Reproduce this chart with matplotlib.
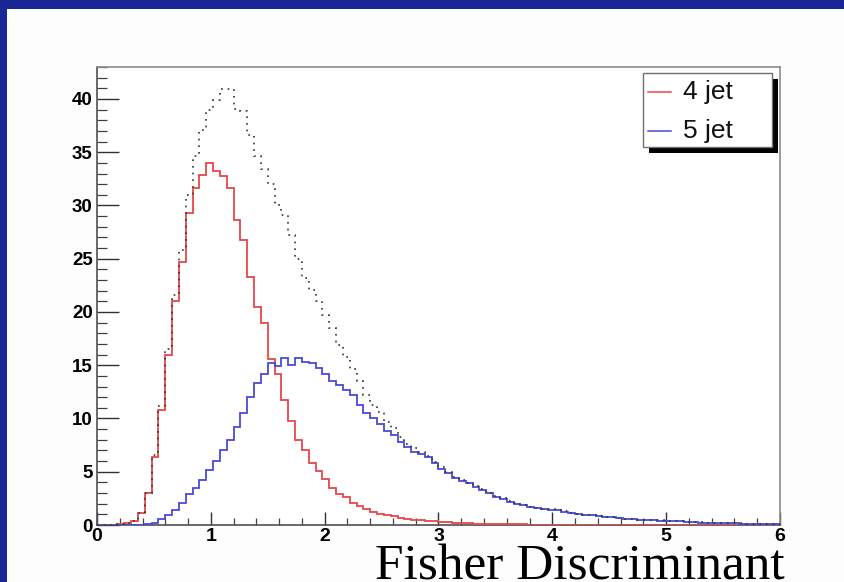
import numpy as np
import matplotlib
matplotlib.use("Agg")
import matplotlib.pyplot as plt
from matplotlib.patches import Rectangle
from matplotlib.lines import Line2D
from matplotlib.ticker import MultipleLocator

# Fisher discriminant distributions, 100 bins from 0 to 6
x_range = (0.0, 6.0)
n_bins = 100

jet4 = [0.02, 0.02, 0.04, 0.08, 0.15, 0.35, 1.1, 3.0, 6.4, 10.8,
        16.0, 21.0, 24.7, 29.3, 31.6, 32.9, 34.0, 33.2, 32.8, 31.6,
        28.6, 26.8, 23.3, 20.5, 19.0, 15.6, 14.2, 11.7, 9.8, 8.0,
        7.0, 5.8, 5.1, 4.3, 3.5, 2.9, 2.6, 2.1, 1.75, 1.5,
        1.25, 1.05, 0.92, 0.8, 0.7, 0.6, 0.5, 0.45, 0.4, 0.35,
        0.3, 0.25, 0.22, 0.18, 0.15, 0.13, 0.11, 0.1, 0.08, 0.07,
        0.06, 0.05, 0.05, 0.04, 0.04, 0.03, 0.03, 0.03, 0.02, 0.02,
        0.02, 0.02, 0.02, 0.02, 0.01, 0.01, 0.01, 0.01, 0.01, 0.01,
        0.01, 0.01, 0.01, 0.01, 0.01, 0.01, 0.01, 0.01, 0.01, 0.01,
        0.01, 0.01, 0.01, 0.01, 0.01, 0.01, 0.01, 0.01, 0.01, 0.01]

jet5 = [0.0, 0.0, 0.0, 0.0, 0.0, 0.01, 0.02, 0.05, 0.2, 0.6,
        0.9, 1.4, 2.1, 2.9, 3.5, 4.2, 5.2, 6.0, 7.0, 8.0,
        9.2, 10.5, 12.0, 13.3, 14.2, 15.2, 14.9, 15.65, 15.0, 15.65,
        15.3, 15.2, 14.7, 14.2, 13.5, 13.1, 12.7, 12.2, 11.3, 10.5,
        10.0, 9.5, 8.8, 8.45, 7.8, 7.35, 6.9, 6.7, 6.4, 5.8,
        5.3, 4.85, 4.4, 4.1, 3.9, 3.6, 3.3, 3.0, 2.65, 2.45,
        2.2, 2.0, 1.85, 1.7, 1.6, 1.5, 1.45, 1.4, 1.25, 1.15,
        1.05, 0.95, 0.9, 0.85, 0.78, 0.72, 0.66, 0.6, 0.56, 0.5,
        0.47, 0.45, 0.42, 0.4, 0.36, 0.33, 0.3, 0.26, 0.23, 0.21,
        0.2, 0.18, 0.16, 0.15, 0.14, 0.13, 0.12, 0.11, 0.1, 0.1]

total = [0.02, 0.02, 0.04, 0.08, 0.15, 0.35, 1.1, 3.0, 6.6, 11.2,
         16.5, 21.6, 25.8, 31.0, 34.6, 37.1, 39.0, 39.9, 40.9, 40.9,
         39.1, 38.9, 36.6, 34.6, 33.4, 32.0, 30.0, 29.1, 27.2, 25.0,
         23.2, 22.1, 21.0, 19.7, 18.5, 16.9, 15.8, 14.6, 13.5, 12.2,
         11.3, 10.6, 9.7, 9.1, 8.3, 7.6, 7.2, 6.9, 6.5, 5.9,
         5.4, 4.95, 4.5, 4.2, 3.95, 3.65, 3.35, 3.05, 2.7, 2.5,
         2.25, 2.05, 1.88, 1.72, 1.62, 1.52, 1.47, 1.42, 1.27, 1.17,
         1.07, 0.97, 0.92, 0.86, 0.79, 0.73, 0.67, 0.61, 0.57, 0.51,
         0.48, 0.46, 0.43, 0.41, 0.37, 0.34, 0.31, 0.27, 0.24, 0.22,
         0.21, 0.19, 0.17, 0.16, 0.15, 0.14, 0.13, 0.12, 0.11, 0.11]

legend_labels = ["4 jet", "5 jet"]
x_ticks = [0, 1, 2, 3, 4, 5, 6]
y_ticks = [0, 5, 10, 15, 20, 25, 30, 35, 40]
x_title = "Fisher Discriminant"

RED = "#e8474a"
BLUE = "#4a4ad8"
FRAME = "#1b2696"

W, H = 845, 582
fig = plt.figure(figsize=(W / 100, H / 100), dpi=100, facecolor="#fdfdfd")


def fx(px):
    return px / W


def fy(py):
    return 1 - py / H


# slide border (top and left bands)
fig.patches.append(Rectangle((0, fy(9)), 1, 1 - fy(9), transform=fig.transFigure,
                             facecolor=FRAME, edgecolor="none", zorder=0))
fig.patches.append(Rectangle((0, 0), fx(7), 1, transform=fig.transFigure,
                             facecolor=FRAME, edgecolor="none", zorder=0))

ax = fig.add_axes([fx(97), fy(525), fx(780) - fx(97), fy(67) - fy(525)])
ax.set_facecolor("white")

edges = np.linspace(x_range[0], x_range[1], n_bins + 1)
ax.stairs(jet4, edges, color=RED, linewidth=1.3, baseline=None, zorder=3)
ax.stairs(jet5, edges, color=BLUE, linewidth=1.3, baseline=None, zorder=3)
ax.stairs(total, edges, color="#333333", linewidth=1.2, baseline=None,
          linestyle=(0, (1, 3)), zorder=4)

ax.set_xlim(*x_range)
ax.set_ylim(0, 43)

for side in ("top", "right"):
    ax.spines[side].set_color("#8c8c8c")
    ax.spines[side].set_linewidth(1.2)
for side in ("left", "bottom"):
    ax.spines[side].set_color("#505050")
    ax.spines[side].set_linewidth(1.2)

ax.set_xticks(x_ticks)
ax.set_yticks(y_ticks)
ax.xaxis.set_minor_locator(MultipleLocator(0.2))
ax.yaxis.set_minor_locator(MultipleLocator(1))
ax.tick_params(axis="y", which="major", direction="in", length=15.5, width=1.0,
               color="#303030", pad=3)
ax.tick_params(axis="y", which="minor", direction="in", length=7.5, width=0.9,
               color="#404040")
ax.tick_params(axis="x", which="major", direction="in", length=9.5, width=1.0,
               color="#303030", pad=2)
ax.tick_params(axis="x", which="minor", direction="in", length=5, width=0.9,
               color="#404040")
for lab in ax.get_xticklabels():
    lab.set_fontfamily("Liberation Sans")
    lab.set_fontweight("bold")
    lab.set_fontsize(14)
for lab in ax.get_yticklabels():
    lab.set_fontfamily("Liberation Sans")
    lab.set_fontweight("bold")
    lab.set_fontsize(13.5)

# legend box with solid drop shadow
lx0, ly0, lx1, ly1 = 643, 73, 772, 147
fig.patches.append(Rectangle((fx(lx0 + 6), fy(ly1 + 6)), fx(lx1) - fx(lx0),
                             fy(ly0) - fy(ly1), transform=fig.transFigure,
                             facecolor="black", edgecolor="none", zorder=5))
fig.patches.append(Rectangle((fx(lx0), fy(ly1)), fx(lx1) - fx(lx0),
                             fy(ly0) - fy(ly1), transform=fig.transFigure,
                             facecolor="white", edgecolor="#707070",
                             linewidth=1.0, zorder=6))
for label, color, yc in zip(legend_labels, [RED, BLUE], [92, 131]):
    fig.lines.append(Line2D([fx(648), fx(671)], [fy(yc), fy(yc)],
                            transform=fig.transFigure, color=color,
                            linewidth=1.1, zorder=7))
    fig.text(fx(683), fy(yc), label, fontsize=19, family="Liberation Sans",
             ha="left", va="center", color="#111111", zorder=7)

# axis title sits low, against the bottom edge of the slide
fig.text(fx(375), fy(580), x_title, fontsize=37, family="Liberation Serif",
         ha="left", va="baseline", color="black")

fig.savefig("out.png", dpi=100, facecolor=fig.get_facecolor())
